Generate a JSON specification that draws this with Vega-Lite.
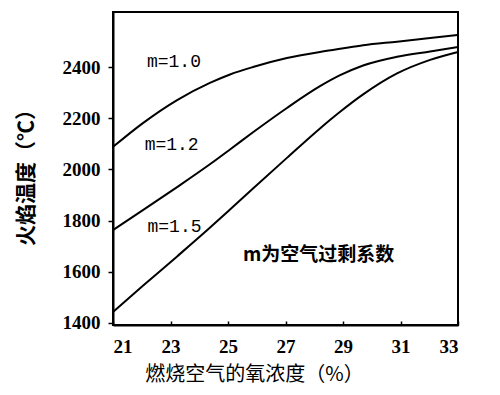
{
  "$schema": "https://vega.github.io/schema/vega-lite/v6.json",
  "width": 345,
  "height": 313,
  "autosize": {"type": "none"},
  "padding": {"left": 113, "top": 12, "right": 42, "bottom": 70},
  "background": "white",
  "config": {
    "view": {"stroke": "black", "strokeWidth": 2},
    "axis": {
      "grid": false,
      "domainColor": "black",
      "domainWidth": 2,
      "tickColor": "black",
      "tickWidth": 1.5,
      "labelColor": "black",
      "labelFont": "Liberation Serif",
      "labelFontWeight": "bold",
      "labelFontSize": 19,
      "titleColor": "black",
      "titleFont": "Noto Sans CJK SC"
    }
  },
  "layer": [
    {
      "data": {
        "values": [
          {"series": "m=1.0", "o2": 21, "temp": 2088},
          {"series": "m=1.0", "o2": 22.04, "temp": 2181},
          {"series": "m=1.0", "o2": 23.23, "temp": 2271},
          {"series": "m=1.0", "o2": 24.37, "temp": 2338},
          {"series": "m=1.0", "o2": 25.07, "temp": 2371},
          {"series": "m=1.0", "o2": 25.87, "temp": 2400},
          {"series": "m=1.0", "o2": 27.05, "temp": 2435},
          {"series": "m=1.0", "o2": 28.2, "temp": 2459},
          {"series": "m=1.0", "o2": 28.9, "temp": 2471},
          {"series": "m=1.0", "o2": 29.7, "temp": 2485},
          {"series": "m=1.0", "o2": 30.88, "temp": 2499},
          {"series": "m=1.0", "o2": 32.03, "temp": 2513},
          {"series": "m=1.0", "o2": 33, "temp": 2525},
          {"series": "m=1.2", "o2": 21, "temp": 1763},
          {"series": "m=1.2", "o2": 22.04, "temp": 1841},
          {"series": "m=1.2", "o2": 23.23, "temp": 1931},
          {"series": "m=1.2", "o2": 24.37, "temp": 2020},
          {"series": "m=1.2", "o2": 25.07, "temp": 2078},
          {"series": "m=1.2", "o2": 25.87, "temp": 2145},
          {"series": "m=1.2", "o2": 27.05, "temp": 2240},
          {"series": "m=1.2", "o2": 28.2, "temp": 2325},
          {"series": "m=1.2", "o2": 28.9, "temp": 2368},
          {"series": "m=1.2", "o2": 29.7, "temp": 2406},
          {"series": "m=1.2", "o2": 30.88, "temp": 2440},
          {"series": "m=1.2", "o2": 32.03, "temp": 2461},
          {"series": "m=1.2", "o2": 33, "temp": 2478},
          {"series": "m=1.5", "o2": 21, "temp": 1443},
          {"series": "m=1.5", "o2": 22.04, "temp": 1545},
          {"series": "m=1.5", "o2": 23.23, "temp": 1660},
          {"series": "m=1.5", "o2": 24.27, "temp": 1762},
          {"series": "m=1.5", "o2": 25.07, "temp": 1843},
          {"series": "m=1.5", "o2": 25.87, "temp": 1925},
          {"series": "m=1.5", "o2": 27.05, "temp": 2045},
          {"series": "m=1.5", "o2": 28.2, "temp": 2160},
          {"series": "m=1.5", "o2": 28.9, "temp": 2225},
          {"series": "m=1.5", "o2": 29.7, "temp": 2293},
          {"series": "m=1.5", "o2": 30.88, "temp": 2375},
          {"series": "m=1.5", "o2": 32.03, "temp": 2428},
          {"series": "m=1.5", "o2": 33, "temp": 2459}
        ]
      },
      "mark": {"type": "line", "color": "black", "strokeWidth": 2, "interpolate": "monotone"},
      "encoding": {
        "x": {
          "field": "o2", "type": "quantitative",
          "scale": {"domain": [21, 33], "nice": false},
          "axis": {
            "values": [21, 23, 25, 27, 29, 31, 33],
            "format": "d",
            "title": "燃烧空气的氧浓度（%）",
            "titleFontSize": 20,
            "titleFontWeight": "normal",
            "titleX": 141,
            "titleY": 49,
            "titleAlign": "center",
            "titleBaseline": "middle",
            "tickSize": -4,
            "labelPadding": 16
          }
        },
        "y": {
          "field": "temp", "type": "quantitative",
          "scale": {"domain": [1392, 2615], "nice": false, "zero": false},
          "axis": {
            "values": [1400, 1600, 1800, 2000, 2200, 2400],
            "format": "d",
            "title": "火焰温度（℃）",
            "titleFontSize": 21,
            "titleFontWeight": "bold",
            "titleX": -87,
            "titleY": 160,
            "titleAlign": "center",
            "titleBaseline": "middle",
            "tickSize": 5,
            "labelPadding": 8
          }
        },
        "detail": {"field": "series"}
      }
    },
    {
      "data": {
        "values": [
          {"label": "m=1.0", "o2": 22.18, "temp": 2420},
          {"label": "m=1.2", "o2": 22.1, "temp": 2095},
          {"label": "m=1.5", "o2": 22.2, "temp": 1775}
        ]
      },
      "mark": {"type": "text", "align": "left", "baseline": "middle", "font": "Liberation Mono", "fontSize": 18, "color": "black"},
      "encoding": {
        "x": {"field": "o2", "type": "quantitative"},
        "y": {"field": "temp", "type": "quantitative"},
        "text": {"field": "label"}
      }
    },
    {
      "data": {
        "values": [
          {"label": "m为空气过剩系数", "o2": 25.52, "temp": 1666}
        ]
      },
      "mark": {"type": "text", "align": "left", "baseline": "middle", "font": "Noto Sans CJK SC", "fontWeight": "bold", "fontSize": 19, "color": "black"},
      "encoding": {
        "x": {"field": "o2", "type": "quantitative"},
        "y": {"field": "temp", "type": "quantitative"},
        "text": {"field": "label"}
      }
    }
  ]
}
